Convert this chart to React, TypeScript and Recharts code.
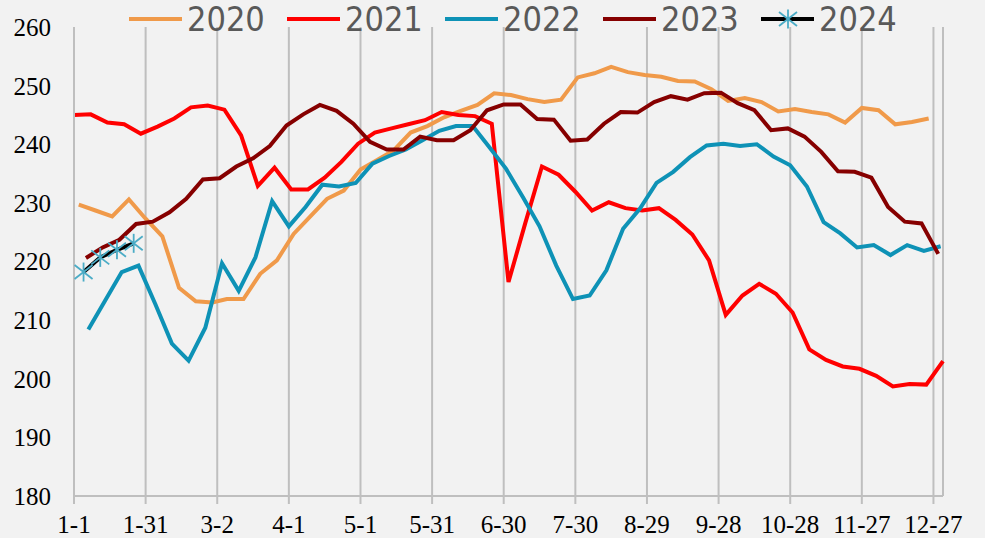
import React from "react";
import { LineChart, Line, XAxis, YAxis, CartesianGrid } from "recharts";

// x axis: day of year (month-day, non-leap base), one tick every 30 days
const tickDays = [0, 30, 60, 90, 120, 150, 180, 210, 240, 270, 300, 330, 360];
const tickLabels = ["1-1", "1-31", "3-2", "4-1", "5-1", "5-31", "6-30", "7-30", "8-29", "9-28", "10-28", "11-27", "12-27"];
const yTicks = [180, 190, 200, 210, 220, 230, 240, 250, 260];

// weekly series (Fridays), first date of each year
const start2020: [number, number, number] = [2020, 1, 3];
const start2021: [number, number, number] = [2021, 1, 1];
const start2022: [number, number, number] = [2022, 1, 7];
const start2023: [number, number, number] = [2023, 1, 6];
const start2024: [number, number, number] = [2024, 1, 5];

const values2020 = [
  229.7, 228.7, 227.7, 230.6, 227.3, 224.3, 215.5, 213.2, 213.0, 213.6,
  213.6, 217.9, 220.2, 224.7, 227.7, 230.7, 232.1, 235.7, 237.3, 239.0,
  242.0, 243.1, 244.6, 245.7, 246.7, 248.7, 248.4, 247.7, 247.2, 247.6,
  251.4, 252.1, 253.2, 252.3, 251.8, 251.5, 250.8, 250.7, 249.4, 247.4,
  247.9, 247.2, 245.6, 246.0, 245.5, 245.1, 243.7, 246.2, 245.8, 243.4,
  243.8, 244.4,
];
const values2021 = [
  245.0, 245.1, 243.7, 243.4, 241.8, 243.0, 244.4, 246.3, 246.6, 245.9,
  241.5, 232.9, 236.0, 232.3, 232.3, 234.3, 237.0, 240.1, 242.0, 242.7,
  243.4, 244.1, 245.5, 245.0, 244.8, 243.5, 216.5, 226.5, 236.2, 234.8,
  231.9, 228.7, 230.1, 229.1, 228.7, 229.1, 227.1, 224.6, 220.2, 210.9,
  214.2, 216.2, 214.5, 211.3, 205.0, 203.2, 202.1, 201.7, 200.5, 198.7,
  199.1, 199.0, 203.0,
];
const values2022 = [
  208.4, 213.3, 218.2, 219.3, 212.8, 206.0, 203.1, 208.7, 219.7, 215.0,
  220.7, 230.3, 226.0, 229.3, 233.1, 232.8, 233.4, 236.7, 238.0, 239.1,
  240.7, 242.3, 243.1, 243.1, 239.5, 235.8, 231.0, 226.0, 219.3, 213.6,
  214.2, 218.5, 225.6, 229.0, 233.4, 235.3, 237.8, 239.8, 240.1, 239.7,
  240.0, 237.9, 236.4, 232.8, 226.7, 224.8, 222.4, 222.8, 221.1, 222.8,
  221.8, 222.6,
];
const values2023 = [
  220.6, 222.4, 223.7, 226.4, 226.8, 228.4, 230.7, 234.0, 234.2, 236.2,
  237.6, 239.7, 243.2, 245.1, 246.7, 245.7, 243.5, 240.4, 239.1, 239.1,
  241.3, 240.7, 240.7, 242.4, 245.8, 246.8, 246.8, 244.3, 244.2, 240.6,
  240.8, 243.5, 245.5, 245.4, 247.2, 248.2, 247.6, 248.7, 248.8, 247.0,
  245.8, 242.4, 242.7, 241.3, 238.7, 235.4, 235.3, 234.3, 229.3, 226.8,
  226.5, 221.3,
];
const values2024 = [218.2, 220.7, 222.0, 223.1];

// weekly dates -> day of year on a non-leap calendar
function toPoints(start: [number, number, number], values: number[]) {
  return values.map((value, i) => {
    const d = new Date(Date.UTC(start[0], start[1] - 1, start[2] + 7 * i));
    const day = (Date.UTC(2023, d.getUTCMonth(), d.getUTCDate()) - Date.UTC(2023, 0, 1)) / 86400000;
    return { day, value };
  });
}

const MARKER = "#4BACC6";

const series = [
  { name: "2020", color: "#F09A4A", data: toPoints(start2020, values2020) },
  { name: "2021", color: "#FF0000", data: toPoints(start2021, values2021) },
  { name: "2022", color: "#0E92B6", data: toPoints(start2022, values2022) },
  { name: "2023", color: "#860000", data: toPoints(start2023, values2023) },
  { name: "2024", color: "#000000", data: toPoints(start2024, values2024), marker: true },
];

function Asterisk({ cx, cy }: { cx: number; cy: number }) {
  return (
    <g stroke={MARKER} strokeWidth={1.8} fill="none">
      <line x1={cx} y1={cy - 9.5} x2={cx} y2={cy + 9.5} />
      <line x1={cx - 9} y1={cy - 7} x2={cx + 9} y2={cy + 7} />
      <line x1={cx - 9} y1={cy + 7} x2={cx + 9} y2={cy - 7} />
    </g>
  );
}

function Legend() {
  return (
    <svg width={985} height={42} style={{ position: "absolute", left: 0, top: 0 }}>
      {series.map((s, i) => {
        const x = 129 + i * 158;
        return (
          <g key={s.name}>
            <line x1={x} y1={19} x2={x + 53} y2={19} stroke={s.color} strokeWidth={4} />
            {s.marker && <Asterisk cx={x + 27} cy={19} />}
            <text
              x={x + 58}
              y={31}
              fontSize={34}
              fill="#595959"
              fontFamily="'Liberation Sans Narrow', 'DejaVu Sans Condensed', sans-serif"
            >
              {s.name}
            </text>
          </g>
        );
      })}
    </svg>
  );
}

const tickFont = { fontFamily: "'Liberation Serif', 'Times New Roman', serif", fontSize: 25, fill: "#000" };

export default function App() {
  return (
    <div style={{ position: "relative", width: 985, height: 538, background: "#F2F2F2" }}>
      <style>{"body{margin:0}"}</style>
      <LineChart width={985} height={538} margin={{ top: 27, right: 42, bottom: 0, left: 0 }}>
        <CartesianGrid horizontal={false} stroke="#BFBFBF" strokeWidth={2} />
        <XAxis
          type="number"
          dataKey="day"
          domain={[0, 364]}
          ticks={tickDays}
          tickFormatter={(d: number) => tickLabels[tickDays.indexOf(d)]}
          height={42}
          tickSize={8}
          tickMargin={11}
          stroke="#BFBFBF"
          axisLine={{ stroke: "#BFBFBF", strokeWidth: 2 }}
          tickLine={{ stroke: "#BFBFBF", strokeWidth: 2 }}
          tick={tickFont}
          interval={0}
        />
        <YAxis
          type="number"
          domain={[180, 260]}
          ticks={yTicks}
          width={74}
          tickSize={0}
          tickMargin={23}
          axisLine={{ stroke: "#BFBFBF", strokeWidth: 2 }}
          tickLine={false}
          tick={tickFont}
          interval={0}
        />
        {series.map((s) => (
          <Line
            key={s.name}
            data={s.data}
            dataKey="value"
            name={s.name}
            type="linear"
            stroke={s.color}
            strokeWidth={4}
            isAnimationActive={false}
            dot={
              s.marker
                ? (p: any) => <Asterisk key={`m-${p.index}`} cx={p.cx} cy={p.cy} />
                : false
            }
            activeDot={false}
          />
        ))}
      </LineChart>
      <Legend />
    </div>
  );
}
